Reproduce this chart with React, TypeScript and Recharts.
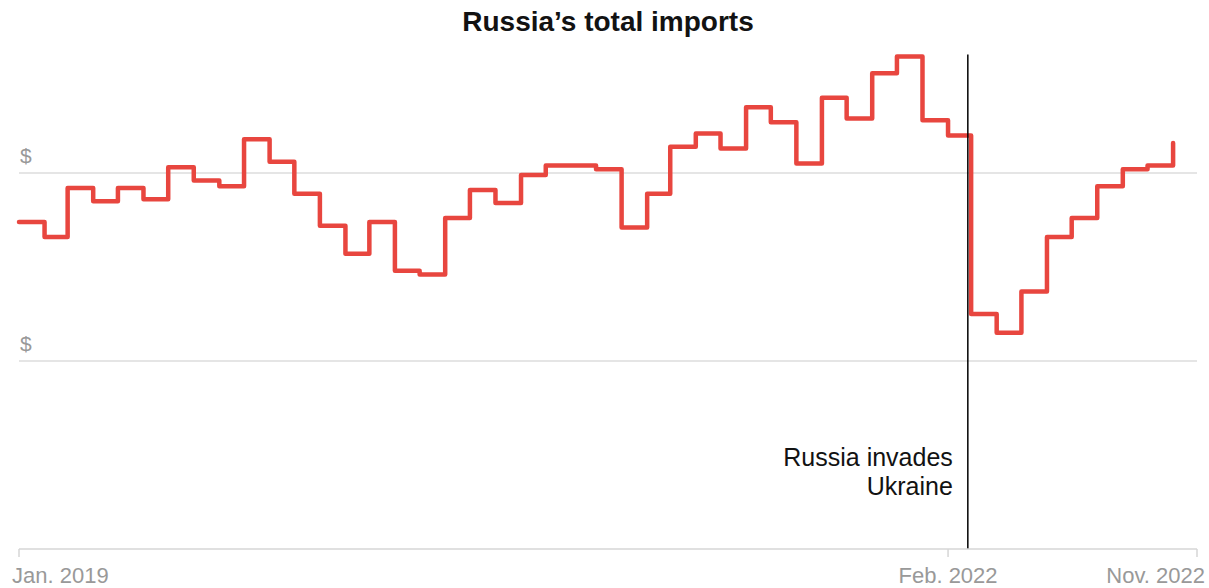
import { LineChart, Line, XAxis, YAxis, ReferenceLine } from "recharts";

document.body.style.margin = "0";

// monthly totals, billions of dollars
const months = [
  "2019-01", "2019-02", "2019-03", "2019-04", "2019-05", "2019-06", "2019-07", "2019-08", "2019-09", "2019-10", "2019-11", "2019-12",
  "2020-01", "2020-02", "2020-03", "2020-04", "2020-05", "2020-06", "2020-07", "2020-08", "2020-09", "2020-10", "2020-11", "2020-12",
  "2021-01", "2021-02", "2021-03", "2021-04", "2021-05", "2021-06", "2021-07", "2021-08", "2021-09", "2021-10", "2021-11", "2021-12",
  "2022-01", "2022-02", "2022-03", "2022-04", "2022-05", "2022-06", "2022-07", "2022-08", "2022-09", "2022-10", "2022-11",
];

const imports = [
  17.4, 16.6, 19.2, 18.5, 19.2, 18.6, 20.3, 19.6, 19.3, 21.8, 20.6, 18.9,
  17.2, 15.7, 17.4, 14.8, 14.6, 17.6, 19.1, 18.4, 19.9, 20.4, 20.4, 20.2,
  17.1, 18.9, 21.4, 22.1, 21.3, 23.5, 22.7, 20.5, 24.0, 22.9, 25.3, 26.2,
  22.8, 22.0, 12.5, 11.5, 13.7, 16.6, 17.6, 19.3, 20.2, 20.4, 21.6,
];

const gridValues = [10, 20];
const tickDates = ["2019-01-01", "2022-02-01", "2022-11-30"];
const tickLabels = ["Jan. 2019", "Feb. 2022", "Nov. 2022"];
const invasionDate = "2022-02-25";
const invasionLabel = ["Russia invades", "Ukraine"];

const toTime = (s: string) => new Date(s.length === 7 ? s + "-01" : s).getTime();

const data = months.map((m, i) => ({ t: toTime(m), value: imports[i] }));
const ticks = tickDates.map(toTime);

const FONT = "'Liberation Sans', Arial, sans-serif";
const RED = "#e8463f";

const XTick = (props: any) => {
  const { x, payload, index } = props;
  const anchor = index === 0 ? "start" : index === ticks.length - 1 ? "end" : "middle";
  const dx = index === 0 ? -7 : index === ticks.length - 1 ? 8 : 0;
  return (
    <text x={x + dx} y={583} textAnchor={anchor} fill="#999" fontSize={22} fontFamily={FONT}>
      {tickLabels[ticks.indexOf(payload.value)]}
    </text>
  );
};

const DollarLabel = (props: any) => {
  const { viewBox } = props;
  return (
    <text x={viewBox.x + 1} y={viewBox.y - 10} fill="#999" fontSize={21} fontFamily={FONT}>
      $
    </text>
  );
};

const InvasionLabel = (props: any) => {
  const { viewBox } = props;
  return (
    <text textAnchor="end" fill="#121212" fontSize={25} fontFamily={FONT}>
      {invasionLabel.map((line, i) => (
        <tspan key={i} x={viewBox.x - 15} y={466 + i * 29}>
          {line}
        </tspan>
      ))}
    </text>
  );
};

export default function App() {
  return (
    <div style={{ position: "relative", width: 1209, height: 588, background: "#fff" }}>
      <LineChart
        width={1209}
        height={588}
        data={data}
        margin={{ top: 22.6, right: 12, left: 19, bottom: 9 }}
      >
        <XAxis
          dataKey="t"
          type="number"
          scale="time"
          domain={[ticks[0], ticks[ticks.length - 1]]}
          ticks={ticks}
          tick={<XTick />}
          height={30}
          tickSize={8}
          axisLine={{ stroke: "#d6d6d6", strokeWidth: 1.5 }}
          tickLine={{ stroke: "#d6d6d6", strokeWidth: 1.5 }}
          interval={0}
        />
        <YAxis hide domain={[0, 28]} type="number" />
        {gridValues.map((v) => (
          <ReferenceLine
            key={v}
            y={v}
            stroke="#dcdcdc"
            strokeWidth={1.5}
            label={<DollarLabel />}
          />
        ))}
        <Line
          type="stepAfter"
          dataKey="value"
          stroke={RED}
          strokeWidth={4.5}
          strokeLinejoin="round"
          strokeLinecap="round"
          dot={false}
          isAnimationActive={false}
        />
        <ReferenceLine
          segment={[
            { x: toTime(invasionDate), y: 0 },
            { x: toTime(invasionDate), y: 26.3 },
          ]}
          stroke="#000"
          strokeWidth={1.5}
          label={<InvasionLabel />}
        />
      </LineChart>
      <svg
        width={1209}
        height={50}
        style={{ position: "absolute", left: 0, top: 0, pointerEvents: "none" }}
      >
        <text x={608} y={31} textAnchor="middle" fontSize={28} fontWeight="bold" fill="#121212" fontFamily={FONT}>
          Russia’s total imports
        </text>
      </svg>
    </div>
  );
}
